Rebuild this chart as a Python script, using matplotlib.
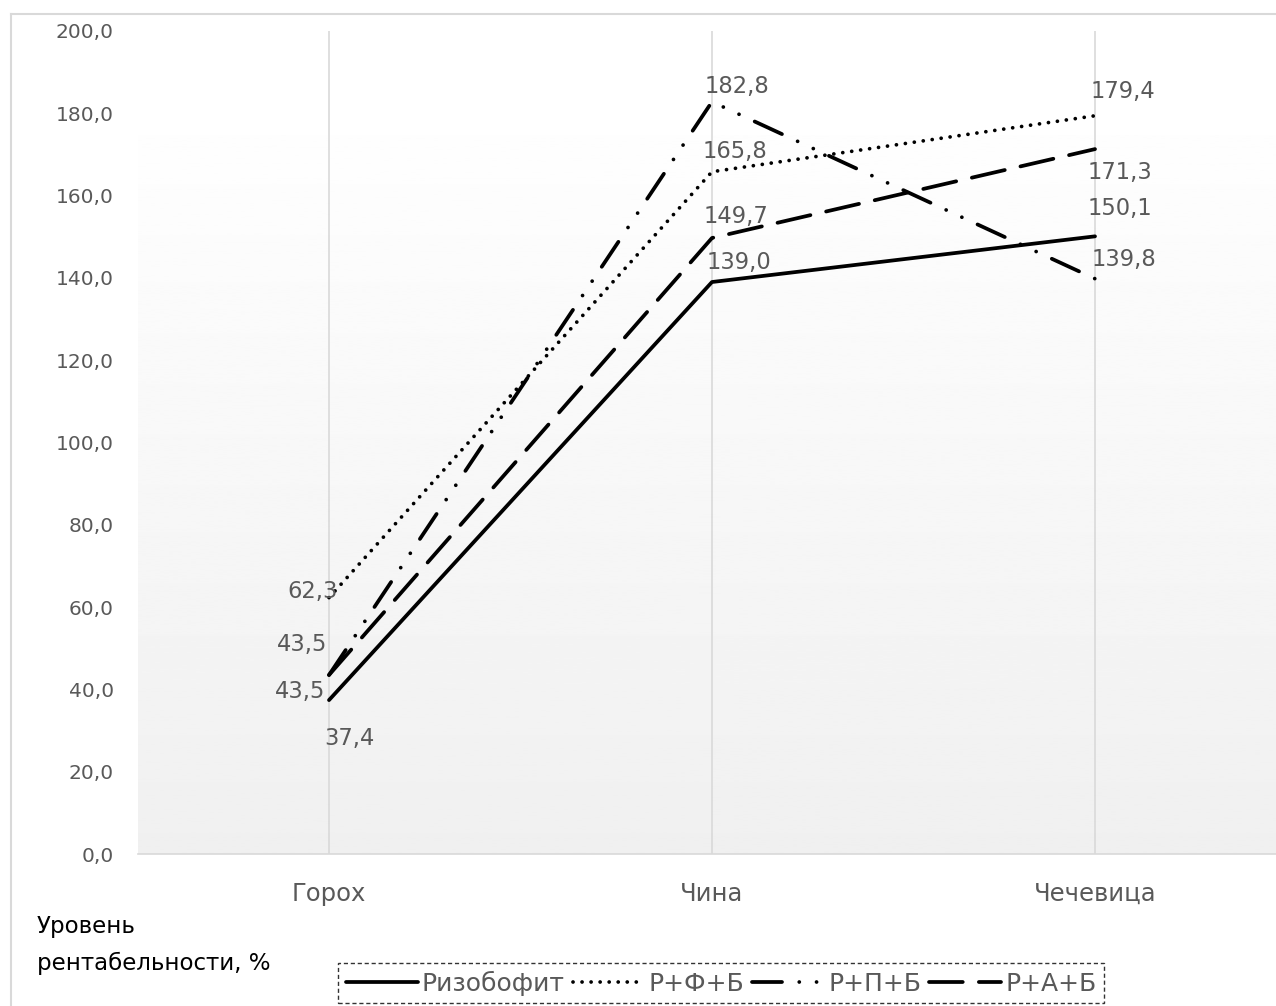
import matplotlib
matplotlib.use("Agg")
import matplotlib.pyplot as plt
import numpy as np
from matplotlib.lines import Line2D

categories = ["Горох", "Чина", "Чечевица"]
series_names = ["Ризобофит", "Р+Ф+Б", "Р+П+Б", "Р+А+Б"]
rizobofit = [37.4, 139.0, 150.1]
r_f_b = [62.3, 165.8, 179.4]
r_p_b = [43.5, 182.8, 139.8]
r_a_b = [43.5, 149.7, 171.3]
y_ticks = [0, 20, 40, 60, 80, 100, 120, 140, 160, 180, 200]

series_values = [rizobofit, r_f_b, r_p_b, r_a_b]

plt.rcParams['font.family'] = ['DejaVu Sans']

W, H = 1276, 1006
fig = plt.figure(figsize=(W / 100, H / 100), dpi=100)

ax_left, ax_right, ax_top, ax_bottom = 137.5, 1286.5, 31, 854
ax = fig.add_axes([ax_left / W, 1 - ax_bottom / H, (ax_right - ax_left) / W, (ax_bottom - ax_top) / H])

x = np.arange(len(categories)) + 0.5
ax.set_xlim(0, len(categories))
ax.set_ylim(0, 200)

# gradient background
grad_top_val = 174.5
grad = np.linspace(0.94, 0.996, 256).reshape(-1, 1)
ax.imshow(grad, extent=[0, len(categories), 0, grad_top_val], origin='lower', aspect='auto',
          cmap='gray', vmin=0, vmax=1, zorder=0)
ax.set_facecolor('white')

for xi in x:
    ax.axvline(xi, color='#d9d9d9', lw=1.2, zorder=1)

lw = 2.7
styles = [
    dict(linestyle='-', solid_capstyle='round'),
    dict(linestyle=(0, (0.01, 2.4)), dash_capstyle='round'),
    dict(linestyle=(0, (8, 4.6, 0.01, 4.6, 0.01, 4.6)), dash_capstyle='round'),
    dict(linestyle=(0, (9, 4.3)), dash_capstyle='round'),
]
for vals, name, st in zip(series_values, series_names, styles):
    ax.plot(x, vals, color='black', lw=lw, label=name, zorder=3, **st)

# data label offsets in pixels (dx, dy up)
label_offsets = [
    [(20, -38), (27, 20), (25, 28)],
    [(-16, 6), (23, 20), (28, 24)],
    [(-27, 30), (25, 15), (29, 19)],
    [(-29, -17), (24, 21), (25, -23)],
]
for vals, offs in zip(series_values, label_offsets):
    for xi, v, (dx, dy) in zip(x, vals, offs):
        ax.annotate(f"{v:.1f}".replace('.', ','), xy=(xi, v),
                    xytext=(dx * 0.72, dy * 0.72), textcoords='offset points',
                    ha='center', va='center', fontsize=16.3, color='#595959', zorder=4)

ax.set_yticks(y_ticks)
ax.set_yticklabels([f"{t:.1f}".replace('.', ',') for t in y_ticks], fontsize=14.5, color='#595959')
ax.set_xticks(x)
ax.set_xticklabels(categories, fontsize=17.5, color='#595959')
ax.tick_params(axis='y', length=0, pad=17)
ax.tick_params(axis='x', length=0, pad=20)
for s in ['top', 'right', 'left']:
    ax.spines[s].set_visible(False)
ax.spines['bottom'].set_color('#d9d9d9')
ax.spines['bottom'].set_linewidth(1.2)

# outer chart border
fig.add_artist(Line2D([11 / W, 11 / W], [0, 1 - 14 / H], transform=fig.transFigure, color='#d9d9d9', lw=1.5))
fig.add_artist(Line2D([11 / W, 1], [1 - 14 / H, 1 - 14 / H], transform=fig.transFigure, color='#d9d9d9', lw=1.5))

fig.text(37 / W, 1 - 945 / H, "Уровень\nрентабельности, %", fontsize=16.5, color='black',
         ha='left', va='center', linespacing=1.75)

leg = fig.legend(loc='center', bbox_to_anchor=(721 / W, 1 - 983 / H), ncol=4, fontsize=18,
                 frameon=True, fancybox=False, handlelength=2.9, handletextpad=0.15,
                 columnspacing=0.3, borderpad=0.3, borderaxespad=0, labelcolor='#595959')
fr = leg.get_frame()
fr.set_edgecolor('black')
fr.set_linestyle((0, (3, 2)))
fr.set_linewidth(1.0)
fr.set_facecolor('white')

fig.savefig('out.png', dpi=100)
